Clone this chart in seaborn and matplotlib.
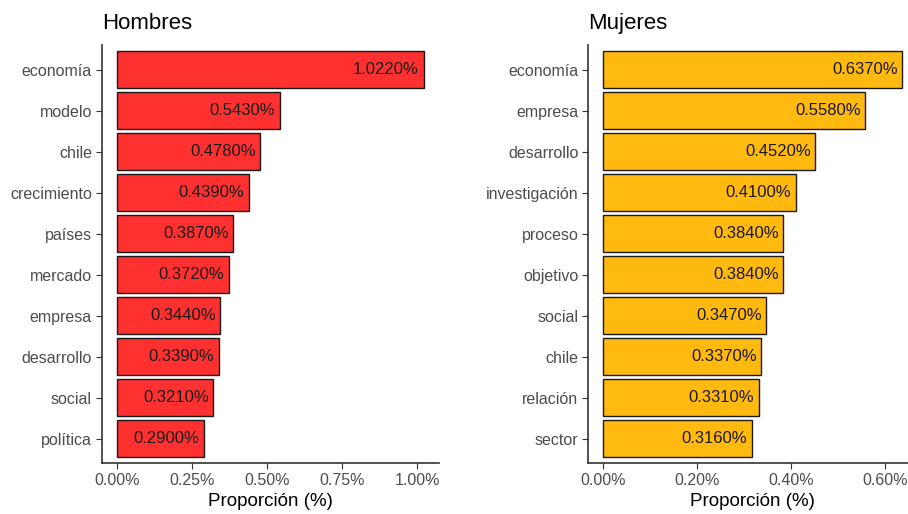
import matplotlib
matplotlib.use("Agg")
import matplotlib.pyplot as plt
import seaborn as sns
import pandas as pd

# datos
palabras_h = ["economía", "modelo", "chile", "crecimiento", "países",
              "mercado", "empresa", "desarrollo", "social", "política"]
prop_h = [1.022, 0.543, 0.478, 0.439, 0.387, 0.372, 0.344, 0.339, 0.321, 0.290]

palabras_m = ["economía", "empresa", "desarrollo", "investigación", "proceso",
              "objetivo", "social", "chile", "relación", "sector"]
prop_m = [0.637, 0.558, 0.452, 0.410, 0.384, 0.384, 0.347, 0.337, 0.331, 0.316]

ticks_h = [0.0, 0.25, 0.5, 0.75, 1.0]
ticks_m = [0.0, 0.2, 0.4, 0.6]

sns.set_theme(style="ticks")
plt.rcParams["font.family"] = ["Liberation Sans", "DejaVu Sans"]

fig = plt.figure(figsize=(9.08, 5.14), dpi=100)
ax1 = fig.add_axes([0.112, 0.099, 0.3715, 0.813])
ax2 = fig.add_axes([0.6476, 0.099, 0.3627, 0.813])


def panel(ax, palabras, valores, color, ticks, titulo):
    df = pd.DataFrame({"palabra": palabras, "valor": valores})
    sns.barplot(data=df, x="valor", y="palabra", color=color, saturation=1,
                edgecolor="#1a1a1a", linewidth=1.0, width=0.9, ax=ax)
    m = max(valores)
    ax.set_xlim(-0.05 * m, 1.05 * m)
    ax.set_ylim(len(palabras) - 0.4, -0.6)
    for i, v in enumerate(valores):
        ax.text(v - 0.015 * m, i, f"{v:.4f}%", ha="right", va="center",
                fontsize=12, color="#1a1a1a")
    ax.set_xticks(ticks)
    ax.set_xticklabels([f"{t:.2f}%" for t in ticks])
    ax.tick_params(axis="both", labelsize=11.5, colors="#4d4d4d",
                   length=4, width=0.8, pad=3)
    ax.tick_params(axis="both", color="#333333")
    ax.set_xlabel("Proporción (%)", fontsize=13.5, color="black", labelpad=4)
    ax.set_ylabel("")
    ax.set_title(titulo, loc="left", fontsize=16, color="black", pad=12)
    sns.despine(ax=ax)
    for s in ["left", "bottom"]:
        ax.spines[s].set_color("#333333")
        ax.spines[s].set_linewidth(1.2)


panel(ax1, palabras_h, prop_h, "#FF3030", ticks_h, "Hombres")
panel(ax2, palabras_m, prop_m, "#FFB90F", ticks_m, "Mujeres")

fig.savefig("out.png", dpi=100)
